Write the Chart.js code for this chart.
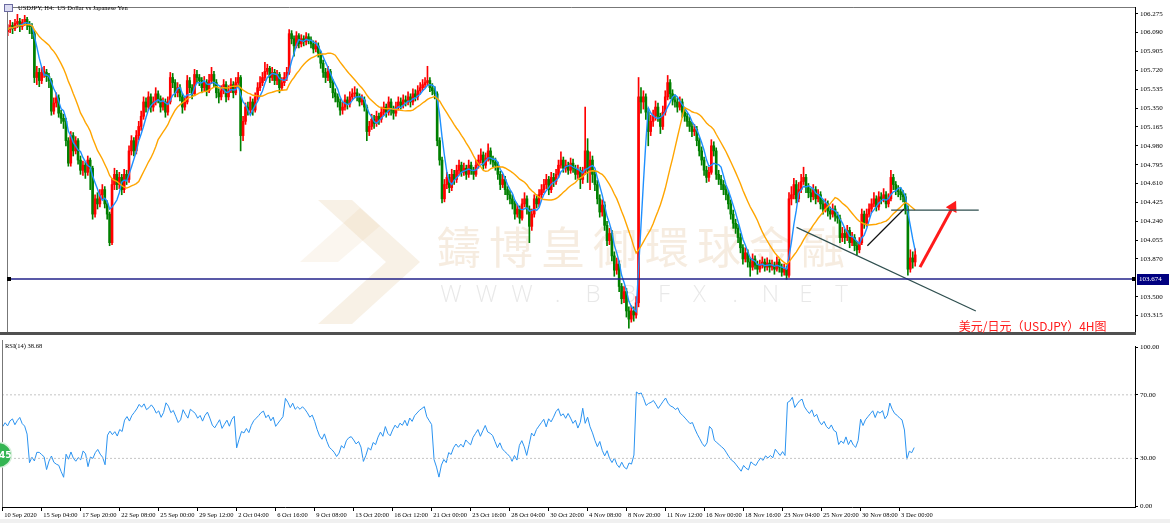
<!DOCTYPE html>
<html>
<head>
<meta charset="utf-8">
<script src="https://cdn.jsdelivr.net/npm/chart.js@4.4.0/dist/chart.umd.min.js"></script>
<style>
  html, body { margin: 0; padding: 0; background: #fff; }
  #wrap { position: relative; width: 1170px; height: 523px; overflow: hidden; }
  canvas { position: absolute; left: 0; }
  #main { top: 0; }
  #rsi { top: 340px; }
</style>
</head>
<body>
<div id="wrap">
  <canvas id="main" width="1170" height="340"></canvas>
  <canvas id="rsi" width="1170" height="183"></canvas>
</div>
<script>
// USDJPY H4, 10 Sep 2020 -> 4 Dec 2020.
const firstOpen = 106.10;

const closes = [
  106.12,106.16,106.13,106.18,106.20,106.15,106.19,106.22,106.17,106.15,
  106.08,105.65,105.70,105.62,105.70,105.70,105.66,105.62,105.32,105.40,
  105.45,105.30,105.25,105.22,105.03,104.81,105.08,104.93,105.03,104.84,
  104.74,104.79,104.72,104.84,104.76,104.31,104.46,104.41,104.50,104.55,
  104.41,104.31,104.03,104.60,104.70,104.60,104.67,104.55,104.70,104.65,
  104.93,105.03,104.93,105.08,105.17,105.27,105.41,105.36,105.46,105.36,
  105.41,105.49,105.44,105.36,105.41,105.31,105.41,105.65,105.60,105.50,
  105.55,105.46,105.36,105.41,105.62,105.55,105.49,105.68,105.65,105.62,
  105.55,105.60,105.52,105.62,105.68,105.60,105.50,105.46,105.52,105.58,
  105.46,105.52,105.58,105.50,105.60,105.65,105.08,105.22,105.36,105.33,
  105.41,105.33,105.46,105.55,105.60,105.65,105.71,105.74,105.65,105.70,
  105.62,105.68,105.55,105.60,105.65,105.70,106.08,106.03,105.96,106.06,
  105.98,106.03,106.00,106.05,106.02,105.98,105.93,105.96,105.89,105.79,
  105.70,105.65,105.71,105.60,105.50,105.46,105.41,105.33,105.36,105.43,
  105.39,105.46,105.49,105.50,105.46,105.41,105.43,105.36,105.12,105.17,
  105.24,105.20,105.27,105.24,105.31,105.36,105.31,105.41,105.33,105.30,
  105.36,105.41,105.38,105.43,105.41,105.46,105.41,105.49,105.46,105.52,
  105.55,105.58,105.60,105.62,105.55,105.52,105.49,105.03,104.84,104.46,
  104.60,104.67,104.57,104.70,104.65,104.74,104.79,104.72,104.76,104.70,
  104.79,104.74,104.70,104.79,104.84,104.89,104.79,104.86,104.93,104.84,
  104.82,104.79,104.70,104.60,104.65,104.55,104.50,104.46,104.41,104.31,
  104.36,104.27,104.41,104.46,104.36,104.19,104.31,104.46,104.41,104.50,
  104.55,104.60,104.65,104.55,104.67,104.63,104.70,104.79,104.84,104.76,
  104.79,104.74,104.81,104.76,104.70,104.74,104.65,104.72,104.93,104.74,
  104.84,104.70,104.60,104.46,104.33,104.40,104.20,104.05,104.12,103.90,
  103.76,103.82,103.60,103.48,103.55,103.36,103.28,103.36,103.32,103.44,
  105.46,105.41,105.46,105.31,105.12,105.22,105.27,105.36,105.27,105.17,
  105.31,105.46,105.60,105.49,105.43,105.41,105.36,105.41,105.31,105.27,
  105.22,105.17,105.12,105.14,105.03,104.93,104.84,104.74,104.67,104.72,
  104.98,104.93,104.70,104.65,104.60,104.55,104.50,104.41,104.31,104.22,
  104.17,104.08,103.98,103.87,103.93,103.84,103.79,103.87,103.81,103.77,
  103.81,103.84,103.79,103.83,103.79,103.81,103.77,103.84,103.79,103.74,
  103.77,103.71,104.46,104.50,104.60,104.46,104.55,104.63,104.67,104.57,
  104.52,104.48,104.55,104.46,104.50,104.41,104.36,104.41,104.34,104.31,
  104.36,104.29,104.27,104.08,104.12,104.08,104.15,104.03,104.08,104.00,
  103.96,104.03,104.31,104.22,104.31,104.36,104.41,104.46,104.38,104.48,
  104.46,104.50,104.41,104.46,104.67,104.60,104.55,104.53,104.50,104.48,
  104.36,103.77,103.88,103.84,103.91
];

const highs = [
  106.17,106.21,106.19,106.22,106.27,106.23,106.22,106.26,106.24,106.20,
  106.18,106.10,105.76,105.74,105.75,105.76,105.73,105.69,105.64,105.45,
  105.50,105.48,105.33,105.29,105.25,105.06,105.12,105.11,105.07,105.05,
  104.88,104.83,104.82,104.88,104.86,104.78,104.50,104.52,104.55,104.60,
  104.58,104.44,104.33,104.66,104.76,104.74,104.72,104.70,104.75,104.74,
  104.98,105.08,105.06,105.13,105.22,105.32,105.46,105.45,105.51,105.49,
  105.46,105.55,105.52,105.47,105.45,105.44,105.46,105.70,105.69,105.63,
  105.60,105.58,105.49,105.46,105.67,105.65,105.58,105.73,105.72,105.68,
  105.65,105.66,105.63,105.68,105.75,105.71,105.63,105.54,105.57,105.63,
  105.61,105.57,105.64,105.61,105.65,105.70,105.67,105.27,105.40,105.41,
  105.46,105.44,105.50,105.60,105.66,105.70,105.80,105.78,105.76,105.75,
  105.73,105.72,105.70,105.65,105.70,105.75,106.12,106.11,106.06,106.10,
  106.08,106.07,106.06,106.09,106.08,106.05,106.01,106.01,105.99,105.91,
  105.82,105.74,105.76,105.73,105.63,105.54,105.49,105.44,105.41,105.48,
  105.46,105.51,105.54,105.56,105.54,105.49,105.48,105.46,105.38,105.22,
  105.29,105.28,105.32,105.30,105.36,105.41,105.39,105.46,105.44,105.37,
  105.41,105.46,105.45,105.48,105.47,105.51,105.49,105.54,105.53,105.57,
  105.60,105.63,105.65,105.76,105.65,105.59,105.56,105.51,105.06,104.87,
  104.65,104.72,104.70,104.75,104.74,104.79,104.84,104.82,104.81,104.79,
  104.84,104.82,104.77,104.84,104.89,104.95,104.92,104.91,105.00,104.96,
  104.88,104.86,104.82,104.73,104.70,104.68,104.58,104.54,104.50,104.44,
  104.41,104.39,104.46,104.52,104.49,104.39,104.36,104.50,104.50,104.55,
  104.60,104.65,104.70,104.68,104.72,104.71,104.75,104.84,104.92,104.87,
  104.84,104.82,104.86,104.85,104.79,104.79,104.77,104.77,105.36,105.05,
  104.92,104.88,104.74,104.64,104.50,104.45,104.43,104.24,104.17,104.15,
  103.94,103.88,103.85,103.63,103.60,103.58,103.40,103.41,103.40,103.50,
  105.65,105.55,105.52,105.49,105.35,105.28,105.33,105.42,105.40,105.30,
  105.37,105.52,105.67,105.63,105.53,105.48,105.45,105.46,105.44,105.35,
  105.30,105.26,105.21,105.19,105.17,105.06,104.97,104.87,104.78,104.77,
  105.04,105.02,104.96,104.74,104.69,104.64,104.59,104.54,104.45,104.35,
  104.26,104.21,104.12,104.01,103.98,103.96,103.88,103.92,103.90,103.85,
  103.86,103.89,103.87,103.88,103.86,103.86,103.84,103.89,103.87,103.82,
  103.82,103.80,104.52,104.58,104.66,104.64,104.62,104.70,104.77,104.70,
  104.61,104.56,104.60,104.58,104.55,104.53,104.45,104.46,104.44,104.38,
  104.41,104.39,104.33,104.30,104.18,104.16,104.20,104.18,104.13,104.11,
  104.04,104.08,104.36,104.34,104.36,104.41,104.46,104.52,104.49,104.53,
  104.52,104.56,104.53,104.51,104.74,104.70,104.63,104.59,104.57,104.54,
  104.51,104.39,103.96,103.94,103.97
];

const lows = [
  106.06,106.09,106.08,106.11,106.14,106.10,106.12,106.16,106.12,106.08,
  106.03,105.60,105.58,105.56,105.59,105.65,105.61,105.55,105.28,105.29,
  105.36,105.26,105.20,105.15,104.98,104.78,104.78,104.88,104.90,104.80,
  104.70,104.69,104.66,104.69,104.55,104.26,104.28,104.36,104.38,104.46,
  104.37,104.26,104.00,104.01,104.55,104.55,104.56,104.50,104.52,104.60,
  104.62,104.89,104.88,104.90,105.04,105.13,105.24,105.31,105.33,105.31,
  105.32,105.38,105.40,105.31,105.33,105.26,105.28,105.39,105.55,105.46,
  105.46,105.42,105.30,105.33,105.39,105.50,105.44,105.47,105.60,105.57,
  105.50,105.52,105.47,105.50,105.59,105.56,105.45,105.40,105.43,105.49,
  105.41,105.43,105.50,105.45,105.48,105.57,104.93,105.03,105.19,105.28,
  105.30,105.28,105.31,105.43,105.52,105.57,105.62,105.68,105.60,105.62,
  105.58,105.58,105.50,105.52,105.57,105.62,105.68,105.98,105.86,105.94,
  105.94,105.95,105.96,105.97,105.98,105.94,105.89,105.90,105.85,105.74,
  105.65,105.60,105.62,105.55,105.45,105.41,105.36,105.28,105.29,105.33,
  105.34,105.36,105.43,105.45,105.42,105.37,105.38,105.32,105.03,105.08,
  105.14,105.15,105.17,105.19,105.21,105.28,105.26,105.28,105.28,105.24,
  105.27,105.33,105.34,105.35,105.37,105.38,105.36,105.38,105.42,105.43,
  105.49,105.52,105.55,105.57,105.51,105.48,105.44,104.98,104.79,104.42,
  104.43,104.56,104.52,104.54,104.60,104.62,104.70,104.68,104.69,104.65,
  104.67,104.70,104.65,104.68,104.76,104.81,104.75,104.76,104.83,104.80,
  104.77,104.74,104.65,104.55,104.57,104.50,104.45,104.41,104.36,104.26,
  104.28,104.22,104.25,104.38,104.31,104.03,104.15,104.28,104.37,104.38,
  104.47,104.52,104.56,104.50,104.52,104.58,104.60,104.67,104.76,104.72,
  104.72,104.70,104.71,104.72,104.65,104.66,104.56,104.61,104.70,104.62,
  104.55,104.62,104.54,104.41,104.28,104.29,104.15,104.00,104.01,103.85,
  103.70,103.72,103.55,103.43,103.44,103.30,103.19,103.25,103.26,103.29,
  103.40,105.30,105.34,105.24,104.98,105.08,105.17,105.23,105.22,105.10,
  105.14,105.28,105.43,105.44,105.38,105.36,105.31,105.33,105.26,105.22,
  105.17,105.12,105.07,105.08,104.98,104.88,104.79,104.69,104.62,104.63,
  104.70,104.88,104.65,104.60,104.55,104.50,104.45,104.36,104.26,104.17,
  104.12,104.03,103.93,103.82,103.84,103.79,103.70,103.76,103.77,103.72,
  103.74,103.78,103.75,103.76,103.74,103.76,103.72,103.75,103.74,103.70,
  103.71,103.67,103.69,104.40,104.46,104.42,104.43,104.52,104.60,104.52,
  104.47,104.43,104.45,104.41,104.43,104.36,104.31,104.33,104.29,104.26,
  104.28,104.24,104.22,104.03,104.04,104.02,104.05,103.98,104.00,103.95,
  103.91,103.93,104.01,104.17,104.19,104.28,104.33,104.38,104.34,104.35,
  104.41,104.43,104.37,104.38,104.44,104.55,104.50,104.48,104.45,104.43,
  104.31,103.71,103.74,103.78,103.80
];

// right-hand price scale labels as printed (103.685 sits under the level tag)
const priceTicks = [106.275,106.090,105.905,105.720,105.535,105.350,105.165,104.980,
                    104.795,104.610,104.425,104.240,104.055,103.870,103.500,103.315];
const rsiTicks = [0, 30, 70, 100];
const rsiLevels = [30, 70];
// one time label every 16 bars
const dateLabels = ['10 Sep 2020','15 Sep 04:00','17 Sep 20:00','22 Sep 08:00','25 Sep 00:00',
  '29 Sep 12:00','2 Oct 04:00','6 Oct 16:00','9 Oct 08:00','13 Oct 20:00','16 Oct 12:00',
  '21 Oct 00:00','23 Oct 16:00','28 Oct 04:00','30 Oct 20:00','4 Nov 08:00','8 Nov 20:00',
  '11 Nov 12:00','16 Nov 00:00','18 Nov 16:00','23 Nov 04:00','25 Nov 20:00','30 Nov 08:00',
  '3 Dec 00:00'];
const levelPrice = 103.674;

// hand-drawn analysis lines, in (bar index, price)
const trendDown = [[325.1, 104.18], [399.0, 103.36]];
const trendUp = [[354.3, 104.00], [369.4, 104.36]];
const neckline = [[364.1, 104.35], [400.2, 104.35]];
const arrowPath = [[376.0, 103.79], [389.5, 104.38]];
const noteText = '美元/日元（USDJPY）4H图';
const notePos = [392.0, 103.21];
const titleText = 'USDJPY, H4:  US Dollar vs Japanese Yen';
const rsiTitle = 'RSI(14) 38.68';

// ---- view ----
const X_MIN = -0.29, X_MAX = 464.6;
const Y_MIN = 103.1437, Y_MAX = 106.3416;
const UP = '#ff0000', DOWN = '#008000';

// FX bars open where the previous one closed
const opens = closes.map((c, i) => i === 0 ? firstOpen : closes[i - 1]);
const candleColor = closes.map((c, i) => c >= opens[i] ? UP : DOWN);

function sma(arr, n) {
  return arr.map((_, i) => {
    const s = Math.max(0, i - n + 1);
    let t = 0;
    for (let k = s; k <= i; k++) t += arr[k];
    return t / (i - s + 1);
  });
}

// Wilder RSI, history before the window seeded as neutral
function rsi(arr, n) {
  let ag = 0.03, al = 0.03;
  const out = [100 - 100 / (1 + ag / al)];
  for (let i = 1; i < arr.length; i++) {
    const d = arr[i] - arr[i - 1];
    ag = (ag * (n - 1) + Math.max(d, 0)) / n;
    al = (al * (n - 1) + Math.max(-d, 0)) / n;
    out.push(al === 0 ? 100 : 100 - 100 / (1 + ag / al));
  }
  return out;
}

const maFast = sma(closes, 5);
const maSlow = sma(closes, 20);
const rsiVals = rsi(closes, 14);

const pts = arr => arr.map((v, i) => ({ x: i, y: v }));
const seg = (p, color, width, extra) => Object.assign({
  type: 'line', data: p.map(q => ({ x: q[0], y: q[1] })), borderColor: color,
  borderWidth: width, pointRadius: 0, fill: false, order: 0
}, extra || {});

Chart.defaults.font.family = '"Liberation Serif", serif';
Chart.defaults.font.size = 7;
Chart.defaults.color = '#000';

const mainDecor = {
  id: 'mainDecor',
  beforeDatasetsDraw(chart) {
    const { ctx } = chart;
    ctx.save();
    // broker logo (faint)
    ctx.fillStyle = 'rgba(225,190,140,0.22)';
    ctx.beginPath();
    ctx.moveTo(318, 200); ctx.lineTo(352, 200); ctx.lineTo(420, 262);
    ctx.lineTo(352, 324); ctx.lineTo(318, 324); ctx.lineTo(386, 262);
    ctx.closePath(); ctx.fill();
    ctx.fillStyle = 'rgba(225,190,140,0.14)';
    ctx.beginPath();
    ctx.moveTo(300, 262); ctx.lineTo(360, 208); ctx.lineTo(380, 226); ctx.lineTo(338, 262);
    ctx.closePath(); ctx.fill();
    // watermark text
    ctx.textAlign = 'center'; ctx.textBaseline = 'middle';
    ctx.font = '44px "Noto Sans CJK TC"';
    ctx.fillStyle = 'rgba(215,170,115,0.22)';
    [...'鑄博皇御環球金融'].forEach((ch, k) => ctx.fillText(ch, 459 + k * 52, 247));
    ctx.font = '300 24px "Open Sans"';
    ctx.fillStyle = 'rgba(150,150,150,0.22)';
    [...'WWW.BBFX.NET'].forEach((ch, k) => ctx.fillText(ch, 451 + k * 35.5, 295));
    ctx.restore();
  },
  afterDraw(chart) {
    const { ctx, chartArea: a, scales: { x, y } } = chart;
    ctx.save();
    ctx.strokeStyle = '#777'; ctx.lineWidth = 1;
    ctx.beginPath();
    ctx.moveTo(a.left + 0.5, a.bottom); ctx.lineTo(a.left + 0.5, a.top + 0.5);
    ctx.lineTo(a.right, a.top + 0.5); ctx.stroke();
    ctx.fillStyle = '#505050';
    ctx.fillRect(0, a.bottom - 1, a.right + 1, 3);
    // title + icon
    ctx.fillStyle = '#dcdcf2'; ctx.fillRect(4, 4, 9, 8);
    ctx.strokeStyle = '#6a6aa0'; ctx.strokeRect(4.5, 4.5, 8, 7);
    ctx.fillStyle = '#000'; ctx.textAlign = 'left'; ctx.textBaseline = 'middle';
    ctx.font = '6.5px "Liberation Serif"';
    ctx.fillText(titleText, 18, 8.5);
    // level tag
    const ly = Math.round(y.getPixelForValue(levelPrice));
    ctx.fillStyle = '#000';
    ctx.fillRect(a.left, ly - 2, 4, 4);
    ctx.fillRect(a.right - 3, ly - 2, 4, 4);
    ctx.fillStyle = '#000080';
    ctx.fillRect(a.right + 2, ly - 5, 32, 11);
    ctx.fillStyle = '#fff'; ctx.font = '7px "Liberation Serif"';
    ctx.fillText(levelPrice.toFixed(3), a.right + 4, ly + 0.5);
    // note
    ctx.fillStyle = '#ff1a1a'; ctx.font = '12px "Noto Sans CJK SC"';
    ctx.fillText(noteText, x.getPixelForValue(notePos[0]), y.getPixelForValue(notePos[1]));
    ctx.restore();
  }
};

new Chart(document.getElementById('main'), {
  type: 'bar',
  data: {
    datasets: [
      { type: 'bar', data: closes.map((c, i) => ({ x: i, y: [lows[i], highs[i]] })),
        backgroundColor: candleColor, barThickness: 1, grouped: false, order: 3 },
      { type: 'bar', data: closes.map((c, i) => ({ x: i, y: [opens[i], c] })),
        backgroundColor: candleColor, barThickness: 2, grouped: false, minBarLength: 1, order: 2 },
      { type: 'line', data: pts(maSlow), borderColor: '#ffa500', borderWidth: 1.4, pointRadius: 0, order: 1 },
      { type: 'line', data: pts(maFast), borderColor: '#1e90ff', borderWidth: 1.4, pointRadius: 0, order: 1 },
      seg([[X_MIN, levelPrice], [X_MAX, levelPrice]], '#22228a', 1.6),
      seg(trendDown, '#2f4f4f', 1.2),
      seg(trendUp, '#111', 1.2),
      seg(neckline, '#2f4f4f', 1.2),
      seg(arrowPath, '#ff1a1a', 3, { pointStyle: 'triangle', pointRadius: [0, 7],
        pointBackgroundColor: '#ff1a1a', pointBorderWidth: 0, pointRotation: 28 })
    ]
  },
  options: {
    responsive: false, animation: false, events: [],
    layout: { padding: { left: 2, top: 2, right: 0, bottom: 2 } },
    plugins: { legend: { display: false }, tooltip: { enabled: false } },
    scales: {
      x: { type: 'linear', min: X_MIN, max: X_MAX, offset: false, display: false },
      y: {
        type: 'linear', position: 'right', min: Y_MIN, max: Y_MAX,
        afterFit: s => { s.width = 35; },
        afterBuildTicks: s => { s.ticks = priceTicks.map(v => ({ value: v })); },
        ticks: { callback: v => v.toFixed(3), padding: 2, font: { size: 7 }, autoSkip: false },
        grid: { drawOnChartArea: false, tickLength: 3, tickColor: '#000' },
        border: { color: '#000' }
      }
    }
  },
  plugins: [mainDecor]
});

const rsiDecor = {
  id: 'rsiDecor',
  afterDraw(chart) {
    const { ctx, chartArea: a } = chart;
    ctx.save();
    ctx.strokeStyle = '#777'; ctx.lineWidth = 1;
    ctx.beginPath(); ctx.moveTo(a.left + 0.5, 0); ctx.lineTo(a.left + 0.5, a.bottom); ctx.stroke();
    ctx.fillStyle = '#f0f0f0';
    ctx.fillRect(0, chart.height - 4, chart.width, 4);
    ctx.fillStyle = '#000'; ctx.textAlign = 'left'; ctx.textBaseline = 'middle';
    ctx.font = '6.5px "Liberation Serif"';
    ctx.fillText(rsiTitle, 5, 6.5);
    // screenshot tool badge
    ctx.beginPath(); ctx.arc(-1, 115, 12.5, 0, Math.PI * 2);
    ctx.fillStyle = '#34b552'; ctx.fill();
    ctx.lineWidth = 1.5; ctx.strokeStyle = '#d8f0dc'; ctx.stroke();
    ctx.fillStyle = '#fff'; ctx.font = 'bold 9px "DejaVu Sans"';
    ctx.fillText('45', -1, 115.5);
    ctx.restore();
  }
};

new Chart(document.getElementById('rsi'), {
  type: 'line',
  data: {
    datasets: [
      ...rsiLevels.map(v => seg([[X_MIN, v], [X_MAX, v]], '#c4c4c4', 1, { borderDash: [2, 2] })),
      { data: pts(rsiVals), borderColor: '#2b93f0', borderWidth: 1, pointRadius: 0, tension: 0 }
    ]
  },
  options: {
    responsive: false, animation: false, events: [],
    layout: { padding: { left: 2, top: 1, right: 0, bottom: 0 } },
    plugins: { legend: { display: false }, tooltip: { enabled: false } },
    scales: {
      x: {
        type: 'linear', min: X_MIN, max: X_MAX, offset: false,
        afterFit: s => { s.height = 16; },
        afterBuildTicks: s => { s.ticks = dateLabels.map((_, k) => ({ value: k * 16 })); },
        ticks: { callback: v => dateLabels[Math.round(v / 16)], align: 'start', labelOffset: 1.5,
                 maxRotation: 0, minRotation: 0, autoSkip: false, padding: 0, font: { size: 6.5 } },
        grid: { drawOnChartArea: false, tickLength: 4, tickColor: '#000' },
        border: { color: '#000' }
      },
      y: {
        type: 'linear', position: 'right', min: -0.61, max: 100.61,
        afterFit: s => { s.width = 35; },
        afterBuildTicks: s => { s.ticks = rsiTicks.map(v => ({ value: v })); },
        ticks: { callback: v => v.toFixed(2), padding: 2, font: { size: 7 }, autoSkip: false },
        grid: { drawOnChartArea: false, tickLength: 3, tickColor: '#000' },
        border: { color: '#000' }
      }
    }
  },
  plugins: [rsiDecor]
});
</script>
</body>
</html>
